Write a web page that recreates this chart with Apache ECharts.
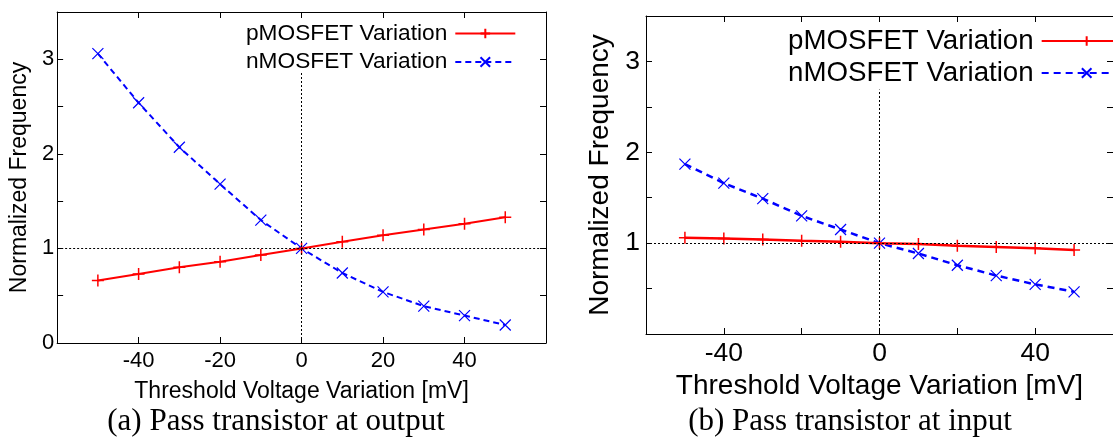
<!DOCTYPE html>
<html>
<head>
<meta charset="utf-8">
<script src="https://cdn.jsdelivr.net/npm/echarts@6/dist/echarts.min.js"></script>
<style>
html,body{margin:0;padding:0;background:#fff;}
#wrap{position:relative;width:1113px;height:440px;overflow:hidden;}
#chartA{position:absolute;left:0;top:0;width:560px;height:440px;}
#chartB{position:absolute;left:560px;top:0;width:553px;height:440px;}
</style>
</head>
<body>
<div id="wrap">
	<div id="chartA"></div>
	<div id="chartB"></div>
</div>
<script>
// threshold voltage variation [mV]
var vth = [-50, -40, -30, -20, -10, 0, 10, 20, 30, 40, 50];
// (a) pass transistor at output
var pOut = [0.66, 0.73, 0.80, 0.86, 0.93, 1.00, 1.07, 1.14, 1.20, 1.26, 1.33];
var nOut = [3.06, 2.54, 2.07, 1.68, 1.30, 1.00, 0.74, 0.54, 0.39, 0.29, 0.19];
// (b) pass transistor at input
var pIn = [1.06, 1.05, 1.04, 1.025, 1.014, 1.00, 0.99, 0.97, 0.957, 0.943, 0.925];
var nIn = [1.87, 1.66, 1.49, 1.30, 1.15, 1.00, 0.886, 0.757, 0.643, 0.546, 0.464];
// ticks and tick labels
var xTicks = [-60, -40, -20, 0, 20, 40, 60];
var xLabelsA = [-40, -20, 0, 20, 40];
var xLabelsB = [-40, 0, 40];
var yTicks = [0, 0.5, 1, 1.5, 2, 2.5, 3, 3.5];
var yLabelsA = [0, 1, 2, 3];
var yLabelsB = [1, 2, 3];

var seriesNames = ['pMOSFET Variation', 'nMOSFET Variation'];
var plusPath = 'path://M5,0L5,10M0,5L10,5';
var crossPath = 'path://M0,0L10,10M0,10L10,0';
var font = 'Liberation Sans';

function pairs(xs, ys) {
	var out = [];
	for (var i = 0; i < xs.length; i++) {
		out.push([xs[i], ys[i]]);
	}
	return out;
}

function bindChart(id, cfg) {
	var myChart = echarts.init(document.getElementById(id));
	var lineAx = {show: true, onZero: false, lineStyle: {color: '#000', width: 1}};
	function xAxis(pos, main) {
		return {
			type: 'value', min: -60, max: 60, position: pos,
			axisLine: lineAx,
			axisTick: {show: true, inside: true, length: 6, customValues: xTicks, lineStyle: {color: '#000', width: 1}},
			axisLabel: {
				show: main, customValues: cfg.xLabels, color: '#000',
				fontFamily: font, fontSize: cfg.tickSize, margin: cfg.xMargin
			},
			splitLine: {show: false},
			name: main ? 'Threshold Voltage Variation [mV]' : '',
			nameLocation: 'middle', nameGap: cfg.xNameGap,
			nameTextStyle: {color: '#000', fontFamily: font, fontSize: cfg.nameSize}
		};
	}
	function yAxis(pos, main) {
		return {
			type: 'value', min: 0, max: 3.5, position: pos,
			axisLine: lineAx,
			axisTick: {show: true, inside: true, length: 6, customValues: yTicks, lineStyle: {color: '#000', width: 1}},
			axisLabel: {
				show: main, customValues: cfg.yLabels, color: '#000',
				fontFamily: font, fontSize: cfg.tickSize, margin: cfg.yMargin
			},
			splitLine: {show: false},
			name: main ? 'Normalized Frequency' : '',
			nameLocation: 'middle', nameGap: cfg.yNameGap, nameRotate: 90,
			nameTextStyle: {color: '#000', fontFamily: font, fontSize: cfg.nameSize}
		};
	}
	var dotted = {color: '#000', width: 1, type: [2, 2]};
	var option = {
		animation: false,
		grid: {left: cfg.grid[0], top: cfg.grid[1], width: cfg.grid[2], height: cfg.grid[3], containLabel: false},
		legend: {
			data: seriesNames,
			orient: 'vertical',
			align: 'right',
			left: cfg.legendLeft,
			top: cfg.legendTop,
			padding: 0,
			itemGap: cfg.legendGap,
			itemWidth: cfg.legendWidth,
			itemHeight: 12,
			textStyle: {color: '#000', fontFamily: font, fontSize: cfg.legendSize, padding: [0, 3, 0, 0]},
			selectedMode: false
		},
		xAxis: [xAxis('bottom', true), xAxis('top', false)],
		yAxis: [yAxis('left', true), yAxis('right', false)],
		graphic: [{
			type: 'text',
			style: {
				text: cfg.caption, x: cfg.captionX, y: 422,
				align: 'center', verticalAlign: 'middle',
				fontFamily: 'Liberation Serif', fontSize: 31, fill: '#000'
			}
		}],
		series: [
			{
				name: seriesNames[0], type: 'line', data: pairs(vth, cfg.p),
				symbol: plusPath, symbolSize: 12,
				lineStyle: {color: '#ff0000', width: cfg.pWidth, type: 'solid'},
				itemStyle: {color: '#ff0000', borderColor: '#ff0000', borderWidth: 1.5},
				z: 3,
				markLine: {
					silent: true, symbol: 'none', label: {show: false},
					lineStyle: dotted,
					data: [
						{yAxis: 1},
						[{coord: [0, 0]}, {coord: [0, cfg.vTop]}]
					]
				}
			},
			{
				name: seriesNames[1], type: 'line', data: pairs(vth, cfg.n),
				symbol: crossPath, symbolSize: 11,
				lineStyle: {color: '#0000ff', width: cfg.nWidth, type: cfg.dash},
				itemStyle: {color: '#0000ff', borderColor: '#0000ff', borderWidth: 1.2},
				z: 2
			}
		]
	};
	myChart.setOption(option);
	return myChart;
}

bindChart('chartA', {
	p: pOut, n: nOut,
	grid: [52, 12, 494, 331],
	xLabels: xLabelsA, yLabels: yLabelsA,
	tickSize: 22, nameSize: 23, legendSize: 22.7,
	xMargin: 7, xNameGap: 37, yMargin: 3, yNameGap: 22,
	legendLeft: 246, legendTop: 22, legendGap: 5.5, legendWidth: 60,
	pWidth: 2, nWidth: 2, dash: [6, 4], vTop: 2.87,
	caption: '(a) Pass transistor at output', captionX: 276
});

bindChart('chartB', {
	p: pIn, n: nIn,
	grid: [86, 16, 477, 318],
	xLabels: xLabelsB, yLabels: yLabelsB,
	tickSize: 26.5, nameSize: 28, legendSize: 27.7,
	xMargin: 6, xNameGap: 32, yMargin: 6, yNameGap: 31,
	legendLeft: 228, legendTop: 27, legendGap: 4, legendWidth: 90,
	pWidth: 2.5, nWidth: 2.5, dash: [7, 5], vTop: 2.69,
	caption: '(b) Pass transistor at input', captionX: 290
});
</script>
</body>
</html>
